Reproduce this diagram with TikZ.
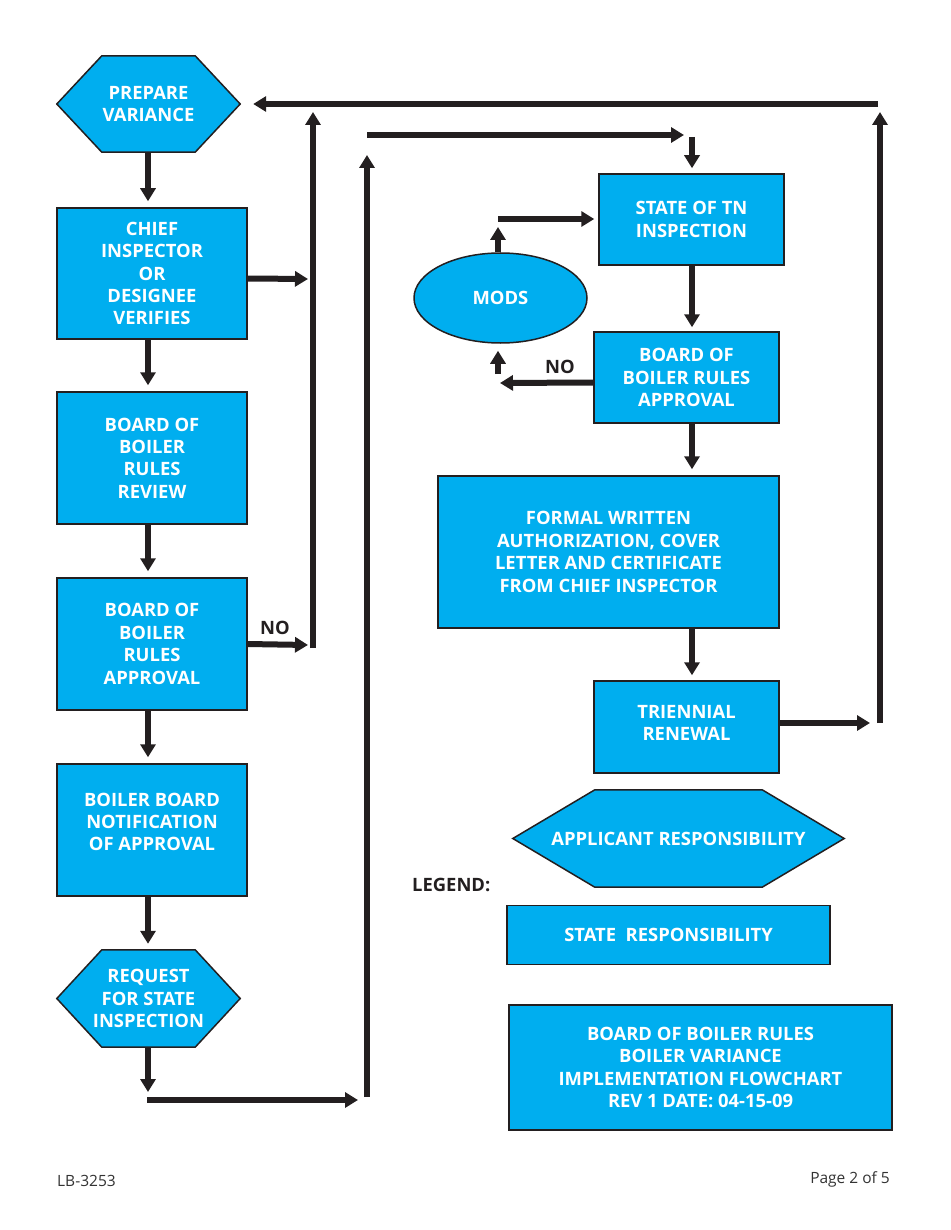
\documentclass[tikz,border=0pt]{standalone}
\usepackage{fontspec}
\setmainfont{Open Sans}
\usetikzlibrary{arrows.meta,shapes.geometric,backgrounds}
\definecolor{boxblue}{RGB}{0,174,239}
\definecolor{ink}{RGB}{35,31,32}
\definecolor{foot}{RGB}{51,51,51}
\begin{document}
\begin{tikzpicture}[x=1pt,y=-1pt,
  txt/.style={text=white, font=\fontsize{18.4}{22.4}\selectfont\bfseries, align=center, inner sep=0pt},
  box/.style={txt, draw=ink, line width=1.5pt, fill=boxblue},
  hexnode/.style={txt, draw=none},
  hexshape/.style={draw=ink, line width=1.5pt, fill=boxblue},
  modsstyle/.style={txt, ellipse, draw=ink, line width=1.5pt, fill=boxblue},
  lbl/.style={text=ink, font=\fontsize{18.4}{22.4}\selectfont\bfseries, inner sep=0pt},
  footer/.style={text=foot, font=\fontsize{15.5}{18}\selectfont, inner sep=0pt},
  conn/.style={draw=ink, line width=6pt, -{Triangle[length=13pt,width=15pt]}},
]
\useasboundingbox (0,0) rectangle (950,1230);

% left column
\node[hexnode, minimum width=183pt, minimum height=96pt] (prep) at (148.5,104) {PREPARE\\VARIANCE};
\node[box, minimum width=190pt, minimum height=131pt] (chief) at (152,273.5) {CHIEF\\INSPECTOR\\OR\\DESIGNEE\\VERIFIES};
\node[box, minimum width=190pt, minimum height=132pt] (review) at (152,458) {BOARD OF\\BOILER\\RULES\\REVIEW};
\node[box, minimum width=190pt, minimum height=132pt] (appr) at (152,644) {BOARD OF\\BOILER\\RULES\\APPROVAL};
\node[box, minimum width=190pt, minimum height=132pt] (notif) at (152,830) {};
\node[txt] (notift) at ([yshift=8pt]notif.center) {BOILER BOARD\\NOTIFICATION\\OF APPROVAL};
\node[hexnode, minimum width=183pt, minimum height=97pt] (req) at (148.5,998.5) {REQUEST\\FOR STATE\\INSPECTION};

% right column
\node[box, minimum width=185pt, minimum height=91pt] (state) at (691.5,219.5) {STATE OF TN\\INSPECTION};
\node[modsstyle, minimum width=173pt, minimum height=90pt] (mods) at (500.5,298) {MODS};
\node[box, minimum width=185pt, minimum height=91pt] (appr2) at (686.5,377.5) {BOARD OF\\BOILER RULES\\APPROVAL};
\node[box, minimum width=341pt, minimum height=152pt] (formal) at (608.5,552) {FORMAL WRITTEN\\AUTHORIZATION, COVER\\LETTER AND CERTIFICATE\\FROM CHIEF INSPECTOR};
\node[box, minimum width=185pt, minimum height=92pt] (tri) at (686.5,727) {};
\node[txt] (trit) at ([yshift=4pt]tri.center) {TRIENNIAL\\RENEWAL};

% legend
\node[hexnode, minimum width=331pt, minimum height=97pt] (appl) at (678.5,838.5) {APPLICANT RESPONSIBILITY};
\node[lbl, anchor=west] (legend) at (412,885) {LEGEND:};
\node[box, minimum width=323pt, minimum height=59pt] (stresp) at (668.5,935) {STATE\ \ RESPONSIBILITY};
\node[box, minimum width=383pt, minimum height=125pt] (final) at (700.5,1067.5) {BOARD OF BOILER RULES\\BOILER VARIANCE\\IMPLEMENTATION FLOWCHART\\REV 1 DATE: 04-15-09};

% footer
\node[footer, anchor=west] (lb) at (57,1181) {LB-3253};
\node[footer, anchor=east] (pg) at (890,1179) {Page 2 of 5};

% hexagon outlines
\begin{scope}[on background layer]
\draw[hexshape] (prep.west) -- ([xshift=45pt]prep.north west) -- ([xshift=-45pt]prep.north east) -- (prep.east) -- ([xshift=-45pt]prep.south east) -- ([xshift=45pt]prep.south west) -- cycle;
\draw[hexshape] (req.west) -- ([xshift=45pt]req.north west) -- ([xshift=-45pt]req.north east) -- (req.east) -- ([xshift=-45pt]req.south east) -- ([xshift=45pt]req.south west) -- cycle;
\draw[hexshape] (appl.west) -- ([xshift=82pt]appl.north west) -- ([xshift=-82pt]appl.north east) -- (appl.east) -- ([xshift=-82pt]appl.south east) -- ([xshift=82pt]appl.south west) -- cycle;
\end{scope}

% helper coordinates
\coordinate (colL) at (148,0);
\coordinate (colR) at (692,0);
\coordinate (colM) at (498,0);
\coordinate (noLtip) at (308,645);
\coordinate (chieftip) at (308,279);
\coordinate (vLbot) at (313,648);
\coordinate (vLtop) at (313,112);
\coordinate (topR) at (878,104);
\coordinate (reqtip) at (148,1092);
\coordinate (botL) at (147,1100);
\coordinate (botR) at (358,1100);
\coordinate (vMbot) at (367,1097);
\coordinate (vMtop) at (367,155);
\coordinate (hTopL) at (367,135);
\coordinate (hTopR) at (684,135);
\coordinate (stIn) at (692,137);
\coordinate (noRtip) at (500,383);
\coordinate (modsUpBot) at (498,374);
\coordinate (modsUpTop) at (498,227);
\coordinate (modsRt) at (498,219);
\coordinate (triTip) at (870,723);
\coordinate (vRbot) at (880,723);
\coordinate (vRtop) at (880,112);

% left column connectors
\draw[conn, shorten >=6pt] (prep.south -| colL) -- (chief.north -| colL);
\draw[conn] ([yshift=-5pt]chief.east) -- (chieftip);
\draw[conn, shorten >=6pt] (chief.south -| colL) -- (review.north -| colL);
\draw[conn, shorten >=6pt] (review.south -| colL) -- (appr.north -| colL);
\draw[conn] (appr.east) -- (noLtip);
\node[lbl] (noL) at (275,628) {NO};
\draw[conn, shorten >=6pt] (appr.south -| colL) -- (notif.north -| colL);
\draw[conn, shorten >=6pt] (notif.south -| colL) -- (req.north -| colL);
\draw[conn] (req.south -| colL) -- (reqtip);
\draw[conn] (vLbot) -- (vLtop);
\draw[conn, shorten >=13pt] (topR) -- (prep.east);
\draw[conn] (botL) -- (botR);
\draw[conn] (vMbot) -- (vMtop);
\draw[conn] (hTopL) -- (hTopR);

% right column connectors
\draw[conn, shorten >=5pt] (stIn) -- (state.north -| colR);
\draw[conn, shorten >=4pt] (state.south -| colR) -- (appr2.north -| colR);
\draw[conn] ([yshift=-5pt]appr2.west) -- (noRtip);
\node[lbl] (noR) at (560,367) {NO};
\draw[conn, shorten >=7pt] (modsUpBot) -- (mods.south -| colM);
\draw[conn] (mods.north -| colM) -- (modsUpTop);
\draw[conn, shorten >=4pt] (modsRt) -- (state.west |- modsRt);
\draw[conn, shorten >=6pt] (appr2.south -| colR) -- (formal.north -| colR);
\draw[conn, shorten >=5pt] (formal.south -| colR) -- (tri.north -| colR);
\draw[conn] ([yshift=4pt]tri.east) -- (triTip);
\draw[conn] (vRbot) -- (vRtop);
\end{tikzpicture}
\end{document}
